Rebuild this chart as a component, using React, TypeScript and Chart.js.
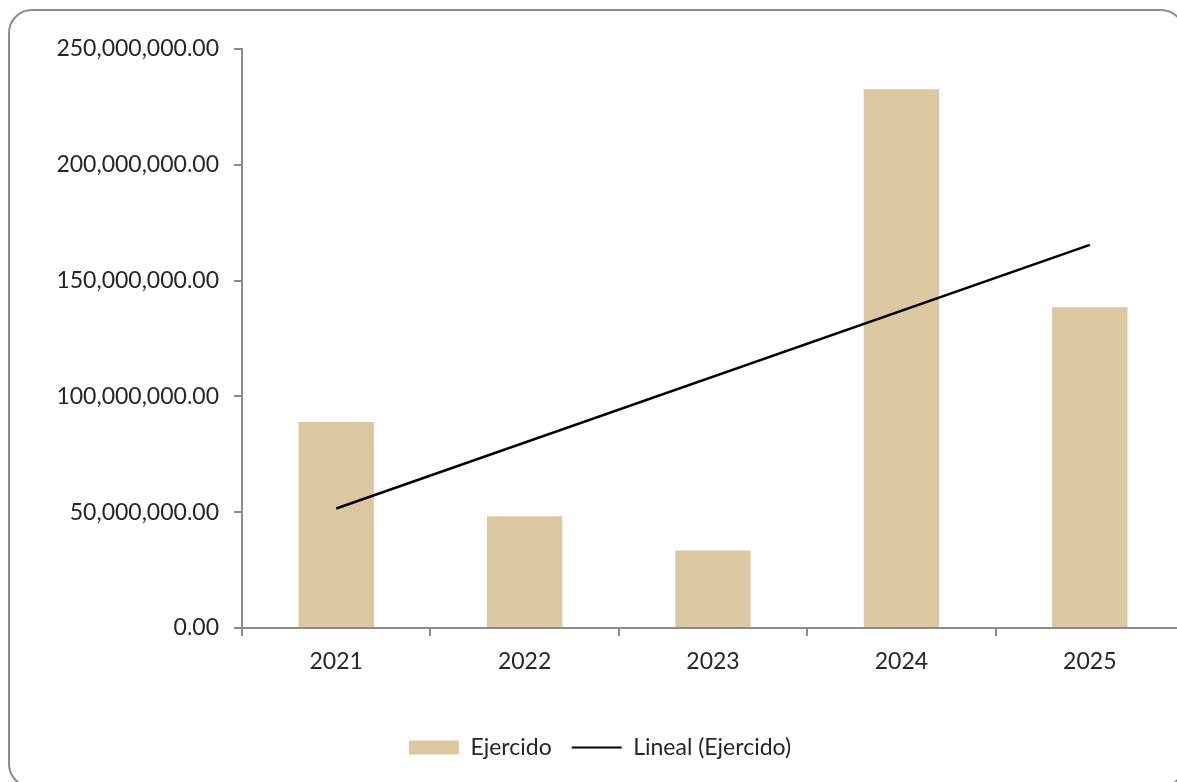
import React, { useEffect, useRef } from "react";
import { Chart, registerables } from "chart.js";

Chart.register(...registerables);

const categories = ["2021", "2022", "2023", "2024", "2025"];
const ejercido = [88.9e6, 48.3e6, 33.5e6, 232.6e6, 138.5e6];
// Trend line read at its two ends (first and last category); drawn straight between them.
const linealEjercido = [51.6e6, null, null, null, 165.4e6];
const yTicks = [0, 50e6, 100e6, 150e6, 200e6, 250e6];

const BAR_COLOR = "#DCC8A0";
const AXIS_COLOR = "#8c8c8c";
const TEXT_COLOR = "#262626";
const FONT = { family: "Lato", size: 23 };

export default function App() {
  const canvasRef = useRef<HTMLCanvasElement | null>(null);

  useEffect(() => {
    const canvas = canvasRef.current;
    if (!canvas) return;
    const chart = new Chart(canvas, {
      type: "bar",
      data: {
        labels: categories,
        datasets: [
          {
            type: "bar",
            label: "Ejercido",
            data: ejercido,
            backgroundColor: BAR_COLOR,
            borderWidth: 0,
            barPercentage: 0.8,
            categoryPercentage: 0.5,
            order: 1,
          },
          {
            type: "line",
            label: "Lineal (Ejercido)",
            data: linealEjercido as any,
            borderColor: "#000000",
            backgroundColor: "#000000",
            borderWidth: 2.5,
            pointRadius: 0,
            spanGaps: true,
            tension: 0,
            order: 0,
          },
        ],
      },
      options: {
        animation: false,
        responsive: true,
        maintainAspectRatio: false,
        layout: { padding: { top: 41, bottom: 13, left: 8, right: 0 } },
        plugins: {
          tooltip: { enabled: false },
          legend: {
            position: "bottom",
            labels: {
              font: FONT,
              color: TEXT_COLOR,
              usePointStyle: true,
              pointStyleWidth: 50,
              boxHeight: 14,
              padding: 20,
              sort: (a: any, b: any) => a.datasetIndex - b.datasetIndex,
              generateLabels: (c: any) => {
                const items = (Chart as any).defaults.plugins.legend.labels.generateLabels(c);
                return items.map((it: any) =>
                  it.datasetIndex === 0
                    ? { ...it, pointStyle: "rect", fillStyle: BAR_COLOR, strokeStyle: BAR_COLOR, lineWidth: 0 }
                    : { ...it, pointStyle: "line", fillStyle: "#000", strokeStyle: "#000", lineWidth: 2 }
                );
              },
            },
          },
        },
        scales: {
          x: {
            grid: {
              display: true,
              drawOnChartArea: false,
              drawTicks: true,
              tickLength: 8,
              color: AXIS_COLOR,
              lineWidth: 2,
              offset: true,
            },
            border: { display: true, color: AXIS_COLOR, width: 2 },
            ticks: { font: FONT, color: TEXT_COLOR, padding: 12, maxRotation: 0 },
            afterFit: (s: any) => {
              s.height = 88;
            },
          },
          y: {
            min: 0,
            max: 250e6,
            afterBuildTicks: (s: any) => {
              s.ticks = yTicks.map((v) => ({ value: v }));
            },
            grid: {
              display: true,
              drawOnChartArea: false,
              drawTicks: true,
              tickLength: 8,
              color: AXIS_COLOR,
              lineWidth: 2,
            },
            border: { display: true, color: AXIS_COLOR, width: 2 },
            ticks: {
              font: FONT,
              color: TEXT_COLOR,
              padding: 15,
              callback: (v: any) =>
                Number(v).toLocaleString("en-US", { minimumFractionDigits: 2, maximumFractionDigits: 2 }),
            },
            afterFit: (s: any) => {
              s.width = 226;
            },
          },
        },
      },
    });
    return () => chart.destroy();
  }, []);

  return (
    <div style={{ position: "fixed", left: 0, top: 0, width: 1177, height: 782, overflow: "hidden", background: "#fff" }}>
      <div
        style={{
          position: "absolute",
          left: 8,
          top: 9,
          width: 1177,
          height: 779,
          border: "2px solid #8c8c8c",
          borderRadius: 24,
          boxSizing: "border-box",
        }}
      />
      <div style={{ position: "absolute", left: 8, top: 8, width: 1176, height: 774 }}>
        <canvas ref={canvasRef} />
      </div>
    </div>
  );
}
